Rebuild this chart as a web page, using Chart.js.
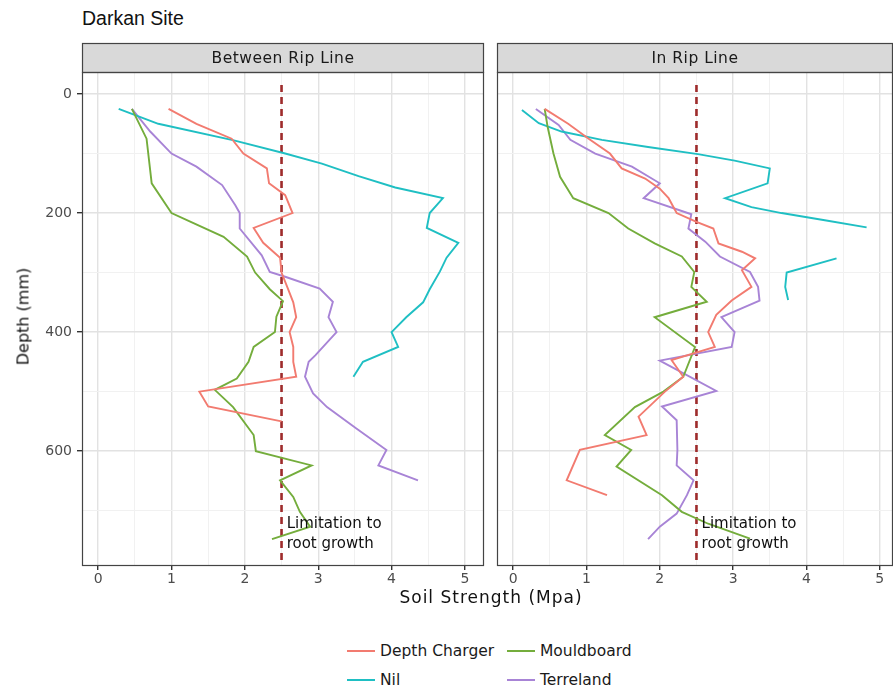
<!DOCTYPE html>
<html>
<head>
<meta charset="utf-8">
<script src="https://cdn.jsdelivr.net/npm/chart.js@4.4.1/dist/chart.umd.min.js"></script>
<style>
  body { margin: 0; background: #fff; font-family: 'DejaVu Sans', sans-serif; }
  #wrap { position: relative; width: 893px; height: 689px; overflow: hidden; }
  canvas { position: absolute; top: 0; }
  #title { position: absolute; left: 82px; top: 7px; font-family: 'Liberation Sans', Arial, sans-serif; font-size: 19.5px; color: #111; }
  #xtitle { position: absolute; left: 341px; width: 300px; top: 587px; text-align: center; font-size: 17px; letter-spacing: 1px; color: #111; }
  #ytitle { position: absolute; left: -27px; top: 307px; width: 100px; text-align: center; font-size: 16px; color: #111; transform: rotate(-90deg); }
  .lg { position: absolute; font-size: 15.5px; color: #1a1a1a; line-height: 18px; white-space: nowrap; }
  .lg i { display: inline-block; width: 28px; height: 2px; vertical-align: middle; margin-right: 5px; margin-top: -2px; }
</style>
</head>
<body>
<div id="wrap">
  <div id="title">Darkan Site</div>
  <canvas id="between" width="490" height="600" style="left:0"></canvas>
  <canvas id="inrip" width="403" height="600" style="left:490px"></canvas>
  <div id="xtitle">Soil Strength (Mpa)</div>
  <div id="ytitle">Depth (mm)</div>
  <div id="legend"></div>
</div>
<script>
const seriesNames = ['Depth Charger', 'Mouldboard', 'Nil', 'Terreland'];
const seriesColors = ['#f27b70', '#74ad3c', '#1fbfc3', '#a884d6'];
const panelNames = ['Between Rip Line', 'In Rip Line'];
const rootLimit = 2.5;
const noteLines = ['Limitation to', 'root growth'];

// [soil strength (MPa), depth (mm)]
const betweenDepthCharger = [[0.96,25],[1.34,50],[1.82,75],[1.98,100],[2.3,125],[2.33,150],[2.55,170],[2.65,200],[2.12,225],[2.25,250],[2.48,275],[2.5,300],[2.58,325],[2.66,350],[2.7,375],[2.61,400],[2.66,425],[2.66,450],[2.7,475],[1.38,500],[1.5,525],[2.5,550]];
const betweenMouldboard = [[0.46,25],[0.66,75],[0.73,150],[1.0,200],[1.3,217],[1.71,240],[2.03,273],[2.14,300],[2.34,328],[2.52,348],[2.43,374],[2.41,400],[2.12,425],[2.05,450],[1.89,478],[1.59,497],[1.84,526],[2.12,573],[2.15,600],[2.91,624],[2.48,649],[2.66,677],[2.75,702],[2.89,727],[2.37,748]];
const betweenNil = [[0.28,25],[0.82,50],[1.85,78],[2.55,100],[3.05,117],[3.55,138],[4.05,157],[4.7,175],[4.52,200],[4.48,225],[4.91,250],[4.75,275],[4.66,298],[4.52,328],[4.43,350],[4.2,375],[4.0,400],[4.09,425],[3.61,450],[3.48,475]];
const betweenTerreland = [[0.46,25],[0.71,63],[1.0,100],[1.34,122],[1.69,153],[1.87,187],[1.93,200],[1.93,226],[2.23,271],[2.34,299],[2.55,307],[3.02,327],[3.2,349],[3.14,375],[3.25,400],[2.96,439],[2.87,450],[2.82,475],[2.93,503],[3.12,526],[3.52,562],[3.93,598],[3.82,624],[4.36,649]];

const inDepthCharger = [[0.43,25],[0.75,50],[1.03,75],[1.32,100],[1.48,125],[1.8,142],[2.0,159],[2.12,175],[2.23,200],[2.5,215],[2.73,226],[2.8,251],[3.12,265],[3.3,276],[3.12,296],[3.25,324],[2.98,347],[2.77,371],[2.66,400],[2.75,425],[2.16,447],[2.32,475],[2.07,500],[1.71,542],[1.82,573],[0.91,598],[0.73,649],[1.28,674]];
const inMouldboard = [[0.43,25],[0.47,55],[0.55,100],[0.64,139],[0.82,175],[1.3,200],[1.57,226],[1.93,251],[2.3,273],[2.47,299],[2.43,324],[2.64,349],[1.93,375],[2.48,425],[2.32,475],[2.05,500],[1.66,526],[1.25,573],[1.61,598],[1.41,626],[2.03,674],[2.3,702],[2.66,722],[3.23,747]];
const inNil = [[0.12,27],[0.35,49],[0.66,63],[1.21,77],[1.84,89],[2.52,101],[3.02,112],[3.5,125],[3.47,150],[2.89,175],[3.25,190],[3.66,200],[4.25,212],[4.82,224],null,[4.41,276],[3.73,300],[3.71,324],[3.75,346]];
const inTerreland = [[0.31,25],[0.62,52],[0.78,77],[1.12,100],[1.62,122],[2.0,150],[1.78,175],[2.43,202],[2.39,226],[2.62,248],[2.82,273],[3.23,299],[3.34,324],[3.36,347],[2.84,375],[3.02,400],[2.98,425],[2.0,448],[2.77,499],[2.03,525],[2.23,548],[2.24,598],[2.23,624],[2.46,649],[2.37,674],[2.23,705],[2.0,727],[1.84,748]];

const depthMin = -37, depthMax = 793;

const facetPlugin = {
  id: 'facet',
  afterDraw(chart) {
    const { ctx, chartArea: a, scales } = chart;
    const o = chart.options.plugins.facet;
    ctx.save();
    // strip + panel border
    ctx.fillStyle = '#d9d9d9';
    ctx.fillRect(a.left, 43, a.width, a.top - 43);
    ctx.strokeStyle = '#444';
    ctx.lineWidth = 1.2;
    ctx.strokeRect(a.left + 0.5, 43.5, a.width - 1, a.top - 43);
    ctx.strokeRect(a.left + 0.5, a.top + 0.5, a.width - 1, a.height - 1);
    ctx.fillStyle = '#1a1a1a';
    ctx.font = '15.5px "DejaVu Sans"';
    ctx.letterSpacing = '0.5px';
    ctx.textAlign = 'center';
    ctx.textBaseline = 'middle';
    ctx.fillText(o.label, a.left + a.width / 2, (43 + a.top) / 2 + 1);
    ctx.letterSpacing = '0px';
    // annotation
    ctx.font = '15px "DejaVu Sans"';
    ctx.textAlign = 'left';
    ctx.fillStyle = '#111';
    const tx = scales.x.getPixelForValue(2.57);
    ctx.fillText(noteLines[0], tx, scales.y.getPixelForValue(722));
    ctx.fillText(noteLines[1], tx, scales.y.getPixelForValue(757));
    ctx.restore();
  }
};

function toPoints(arr) {
  return arr.map(p => p ? { x: p[0], y: p[1] } : { x: null, y: null });
}

function makePanel(id, label, series, xMax, showY) {
  const datasets = series.map((s, i) => ({
    label: seriesNames[i],
    data: toPoints(s),
    borderColor: seriesColors[i],
    borderWidth: 1.9,
    pointRadius: 0,
    fill: false,
    tension: 0,
    spanGaps: false
  }));
  datasets.push({
    label: 'limit',
    data: [{ x: rootLimit, y: depthMin + 22 }, { x: rootLimit, y: depthMax }],
    borderColor: '#9e2b2b',
    borderWidth: 2.6,
    borderDash: [7, 5],
    pointRadius: 0
  });
  const isMajorX = v => Math.abs(v - Math.round(v)) < 1e-6;
  const isMajorY = v => Math.abs(v % 200) < 1e-6;
  return new Chart(document.getElementById(id), {
    type: 'line',
    data: { datasets },
    plugins: [facetPlugin],
    options: {
      responsive: false,
      animation: false,
      layout: { padding: { top: 72, right: showY ? 6 : 0, left: showY ? 0 : 7, bottom: 0 } },
      plugins: {
        legend: { display: false },
        tooltip: { enabled: false },
        facet: { label }
      },
      scales: {
        x: {
          type: 'linear',
          min: -0.22,
          max: xMax,
          afterFit: s => { s.height = 34; },
          border: { display: false },
          grid: {
            color: c => isMajorX(c.tick.value) ? '#e2e2e2' : '#f1f1f1',
            lineWidth: c => isMajorX(c.tick.value) ? 1.4 : 1,
            tickColor: c => isMajorX(c.tick.value) ? '#333' : 'rgba(0,0,0,0)',
            tickLength: 4
          },
          ticks: {
            stepSize: 0.5,
            includeBounds: false,
            autoSkip: false,
            maxRotation: 0,
            padding: 1,
            color: '#4d4d4d',
            font: { family: 'DejaVu Sans', size: 14 },
            callback: v => isMajorX(v) ? String(Math.round(v)) : ''
          }
        },
        y: {
          type: 'linear',
          reverse: true,
          min: depthMin,
          max: depthMax,
          afterFit: s => { s.width = showY ? 82 : 0; },
          border: { display: false },
          grid: {
            color: c => isMajorY(c.tick.value) ? '#e2e2e2' : '#f1f1f1',
            lineWidth: c => isMajorY(c.tick.value) ? 1.4 : 1,
            tickColor: c => isMajorY(c.tick.value) ? '#333' : 'rgba(0,0,0,0)',
            drawTicks: showY,
            tickLength: 5
          },
          ticks: {
            display: showY,
            stepSize: 100,
            includeBounds: false,
            autoSkip: false,
            padding: 5,
            color: '#4d4d4d',
            font: { family: 'DejaVu Sans', size: 14 },
            callback: v => isMajorY(v) ? String(v) : ''
          }
        }
      }
    }
  });
}

makePanel('between', panelNames[0], [betweenDepthCharger, betweenMouldboard, betweenNil, betweenTerreland], 5.26, true);
makePanel('inrip', panelNames[1], [inDepthCharger, inMouldboard, inNil, inTerreland], 5.18, false);

// legend, 2 x 2
const legend = document.getElementById('legend');
seriesNames.forEach((name, i) => {
  const d = document.createElement('div');
  d.className = 'lg';
  d.style.left = (i % 2 ? 507 : 347) + 'px';
  d.style.top = (i < 2 ? 642 : 671) + 'px';
  d.innerHTML = '<i style="background:' + seriesColors[i] + '"></i>' + name;
  legend.appendChild(d);
});
</script>
</body>
</html>
